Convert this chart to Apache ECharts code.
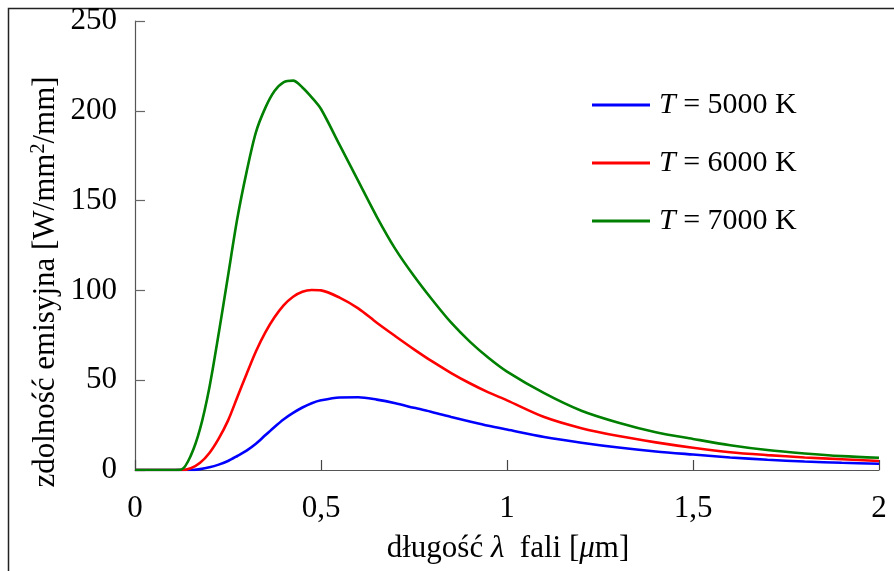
<!DOCTYPE html>
<html>
<head>
<meta charset="utf-8">
<script src="https://cdn.jsdelivr.net/npm/echarts@6/dist/echarts.min.js"></script>
<style>
html,body{margin:0;padding:0;background:#fff;}
#chart{width:894px;height:571px;}
</style>
</head>
<body>
<div id="chart"></div>
<script>
// wavelength [µm]
const wavelengths = [0, 0.05, 0.1, 0.125, 0.15, 0.175, 0.2, 0.225, 0.25, 0.275, 0.3, 0.325, 0.35, 0.375, 0.4, 0.425, 0.45, 0.475, 0.5, 0.55, 0.6, 0.65, 0.7, 0.75, 0.8, 0.85, 0.9, 0.95, 1.0, 1.1, 1.2, 1.3, 1.4, 1.5, 1.6, 1.7, 1.8, 1.9, 2.0];
// emissive power
const t5000 = [0, 0, 0, 0, 0, 0.5, 1.5, 3, 5, 7.8, 10.8, 14.6, 19.3, 24, 28.3, 31.8, 34.8, 37.2, 38.8, 40.4, 40.5, 39.2, 37.2, 34.6, 32.2, 29.5, 27, 24.6, 22.5, 18.4, 15.2, 12.5, 10.3, 8.6, 7.0, 5.7, 4.7, 4.0, 3.5];
const t6000 = [0, 0, 0, 0, 1, 4, 9.5, 17.5, 27.5, 40.5, 53.5, 66, 76.5, 85, 91.8, 96.5, 99.3, 100.2, 100, 96, 90, 82, 74.5, 67.2, 60.3, 54, 48.3, 43.2, 38.8, 29.5, 23.3, 18.9, 15.4, 12.4, 9.9, 8.3, 7.0, 6.0, 5.0];
const t7000 = [0, 0, 0, 0.3, 8, 23, 46, 76, 108, 140, 166, 188, 201.5, 211, 216, 216.8, 213, 207.5, 201, 181, 161, 141, 123, 108, 94.5, 82, 71.5, 62.5, 54.8, 42.8, 33, 26.3, 21, 17.3, 13.8, 11.1, 9.2, 7.7, 6.8];
const seriesLabels = ['5000', '6000', '7000'];
const seriesColors = ['#0000ff', '#ff0000', '#008000'];
const xTicks = [0, 0.5, 1, 1.5, 2];
const yTicks = [0, 50, 100, 150, 200, 250];

const FONT = '"Liberation Serif", "Times New Roman", serif';
const chart = echarts.init(document.getElementById('chart'));
const values = [t5000, t6000, t7000];
const series = values.map((vals, i) => ({
  name: 'T = ' + seriesLabels[i] + ' K',
  type: 'line',
  symbol: 'none',
  showSymbol: false,
  smooth: 0.3,
  lineStyle: { color: seriesColors[i], width: 2.6 },
  itemStyle: { color: seriesColors[i] },
  data: wavelengths.map((w, k) => [w, vals[k]])
}));

chart.setOption({
  animation: false,
  backgroundColor: '#fff',
  grid: { left: 135, right: 15, top: 21, bottom: 101, containLabel: false },
  xAxis: {
    type: 'value', min: xTicks[0], max: xTicks[xTicks.length - 1], interval: 0.5,
    axisLine: { lineStyle: { color: '#555', width: 1.2 } },
    axisTick: { inside: true, length: 10, lineStyle: { color: '#444', width: 1.2 } },
    splitLine: { show: false },
    axisLabel: {
      margin: 23, color: '#000', fontFamily: FONT, fontSize: 31,
      formatter: v => String(v).replace('.', ',')
    }
  },
  yAxis: {
    type: 'value', min: yTicks[0], max: yTicks[yTicks.length - 1], interval: 50,
    axisLine: { show: true, lineStyle: { color: '#555', width: 1.2 } },
    axisTick: { show: true, inside: true, length: 10, lineStyle: { color: '#666', width: 1.2 } },
    splitLine: { show: false },
    axisLabel: { margin: 18, color: '#000', fontFamily: FONT, fontSize: 31 }
  },
  legend: {
    orient: 'vertical', left: 587, top: 85,
    icon: 'rect',
    itemWidth: 58, itemHeight: 3, itemGap: 28,
    data: series.map(s => s.name),
    formatter: name => '{i|T} = ' + name.replace('T = ', ''),
    textStyle: {
      color: '#000', fontFamily: FONT, fontSize: 30, padding: [0, 0, 0, 4],
      rich: { i: { fontStyle: 'italic', fontFamily: FONT, fontSize: 30, color: '#000' } }
    }
  },
  graphic: [
    { type: 'rect', silent: true, shape: { x: 8.5, y: 8.5, width: 1000, height: 1000 },
      style: { fill: 'none', stroke: '#222', lineWidth: 1.5 } },
    { type: 'text', silent: true, x: 46, y: 282, rotation: Math.PI / 2,
      style: {
        text: '{n|zdolność emisyjna [W/mm}{s|2}{n|/mm]}',
        align: 'center', verticalAlign: 'middle',
        rich: {
          n: { fontFamily: FONT, fontSize: 31, fill: '#000', lineHeight: 34 },
          s: { fontFamily: FONT, fontSize: 20, fill: '#000', verticalAlign: 'top', lineHeight: 34, padding: [0, 0, 14, 0] }
        }
      } },
    { type: 'text', silent: true, x: 508, y: 549,
      style: {
        text: '{n|długość }{i|λ}{n|  fali [}{i|μ}{n|m]}',
        align: 'center', verticalAlign: 'middle',
        rich: {
          n: { fontFamily: FONT, fontSize: 31, fill: '#000' },
          i: { fontFamily: FONT, fontSize: 31, fill: '#000', fontStyle: 'italic' }
        }
      } }
  ],
  series: series
});
</script>
</body>
</html>
